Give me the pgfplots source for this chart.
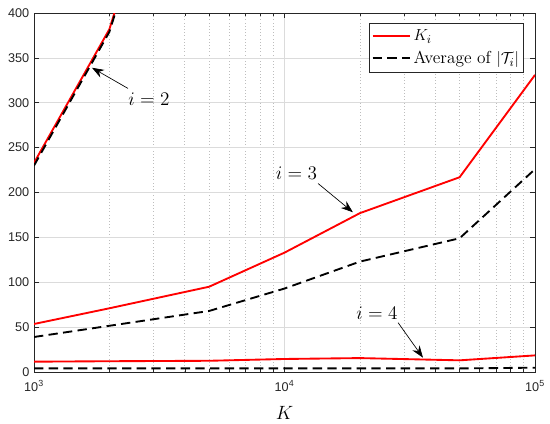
\documentclass[border=0pt]{standalone}
\usepackage{fontspec}
\usepackage{pgfplots}
\pgfplotsset{compat=1.18}
\usetikzlibrary{arrows.meta,calc}
\newfontfamily\helv{Liberation Sans}
\definecolor{axgray}{gray}{0.15}
\definecolor{gridgray}{gray}{0.86}
\definecolor{mgridgray}{gray}{0.74}
\begin{document}
\begin{tikzpicture}
\begin{axis}[
  scale only axis, width=375.75pt, height=269.25pt,
  xmode=log, log basis x=10,
  xmin=1000, xmax=100000, ymin=0, ymax=400,
  ytick={0,50,...,400},
  xtick={1000,10000,100000},
  minor xtick={2000,3000,4000,5000,6000,7000,8000,9000,20000,30000,40000,50000,60000,70000,80000,90000},
  xticklabels={10\textsuperscript{3},10\textsuperscript{4},10\textsuperscript{5}},
  /pgf/number format/assume math mode=true,
  tick label style={font=\helv\fontsize{9.5}{11}\selectfont, text=axgray},
  xticklabel style={yshift=-3pt},
  tick align=inside, tick pos=both,
  major tick length=4pt, minor tick length=2.5pt,
  every tick/.style={axgray, line width=0.4pt},
  axis line style={axgray, line width=0.5pt},
  grid=both,
  major grid style={solid, gridgray, line width=0.4pt},
  minor grid style={dotted, mgridgray, line width=0.5pt},
  minor y tick num=0,
  xlabel={$K$},
  every axis x label/.style={at={(rel axis cs:0.5,0)}, anchor=north, yshift=-22pt, font=\fontsize{14.5}{16}\selectfont},
  legend style={at={(axis description cs:0.978,0.972)}, anchor=north east,
     draw=axgray, fill=white, font=\fontsize{13}{15}\selectfont,
     inner xsep=1.5pt, inner ysep=3pt, row sep=2.5pt, cells={anchor=west}},
  legend image code/.code={\draw[#1, line width=1.5pt] (0pt,0.4pt) -- (28pt,0.4pt);},
  clip=true,
]
% i = 2
\addplot[red, line width=1.4pt] coordinates {(1000,233) (2000,382) (5000,740)};
\addlegendentry{$K_i$}
\addplot[black, line width=1.4pt, dash pattern=on 7pt off 4pt] coordinates {(1000,230) (2000,379) (5000,735)};
\addlegendentry{Average of $|\mathcal{T}_i|$}
% i = 3
\addplot[red, line width=1.4pt, forget plot] coordinates {(1000,53.5) (2000,71) (5000,95) (10000,133) (20000,177) (50000,217) (100000,331)};
\addplot[black, line width=1.4pt, dash pattern=on 7pt off 4pt, forget plot] coordinates {(1000,39) (2000,51.5) (5000,68) (10000,93) (20000,123) (50000,149) (100000,226)};
% i = 4
\addplot[red, line width=1.4pt, forget plot] coordinates {(1000,11.5) (2000,12) (5000,12.5) (10000,14.5) (20000,15.5) (50000,13) (100000,18.5)};
\addplot[black, line width=1.4pt, dash pattern=on 7pt off 4pt, forget plot] coordinates {(1000,4) (2000,4) (5000,4) (10000,4) (20000,4) (50000,4) (100000,4.8)};
% annotations
\node[font=\fontsize{14}{16}\selectfont] at (axis cs:2878,304) {$i=2$};
\draw[black, line width=0.5pt, -{Stealth[length=9pt,width=6.5pt]}] (axis cs:2371,316) -- (axis cs:1704,339);
\node[font=\fontsize{14}{16}\selectfont] at (axis cs:11170,222) {$i=3$};
\draw[black, line width=0.5pt, -{Stealth[length=9pt,width=6.5pt]}] (axis cs:13620,210) -- (axis cs:18750,178);
\node[font=\fontsize{14}{16}\selectfont] at (axis cs:23400,66) {$i=4$};
\draw[black, line width=0.5pt, -{Stealth[length=9pt,width=6.5pt]}] (axis cs:28400,55) -- (axis cs:35700,16);
\end{axis}
\pgfresetboundingbox
\path ($(current axis.south west)+(-25.5pt,-39pt)$) rectangle ($(current axis.north east)+(11.25pt,9.75pt)$);
\end{tikzpicture}
\end{document}
